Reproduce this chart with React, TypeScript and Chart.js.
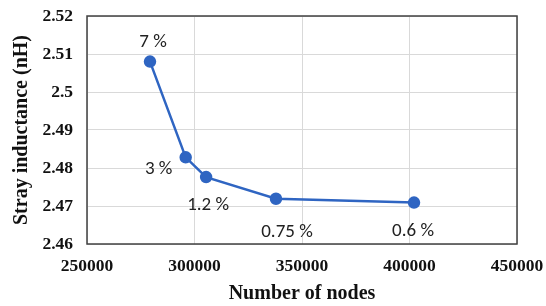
import React, { useEffect, useRef } from "react";
import { Chart, registerables } from "chart.js";

Chart.register(...registerables);

const nodes = [279300, 295900, 305400, 337900, 402100];
const inductance = [2.508, 2.4828, 2.4776, 2.4719, 2.4709];
const pointLabels = ["7 %", "3 %", "1.2 %", "0.75 %", "0.6 %"];
const labelOffsets = [
  [3, -19],
  [-27, 12],
  [2, 28],
  [11, 33],
  [-1, 29],
];

const frameAndLabels = {
  id: "frameAndLabels",
  afterDatasetsDraw(chart: any) {
    const { ctx, chartArea } = chart;
    ctx.save();
    ctx.strokeStyle = "#404040";
    ctx.lineWidth = 1.5;
    ctx.strokeRect(chartArea.left, chartArea.top, chartArea.right - chartArea.left, chartArea.bottom - chartArea.top);
    const meta = chart.getDatasetMeta(0);
    ctx.fillStyle = "#222";
    ctx.font = "19px Carlito, Lato, sans-serif";
    ctx.textAlign = "center";
    ctx.textBaseline = "middle";
    meta.data.forEach((pt: any, i: number) => {
      ctx.fillText(pointLabels[i], pt.x + labelOffsets[i][0], pt.y + labelOffsets[i][1]);
    });
    ctx.restore();
  },
};

export default function App() {
  const ref = useRef<HTMLCanvasElement>(null);
  useEffect(() => {
    document.body.style.margin = "0";
    const chart = new Chart(ref.current!, {
      type: "line",
      data: {
        datasets: [
          {
            data: nodes.map((x, i) => ({ x, y: inductance[i] })),
            borderColor: "#2f65c2",
            backgroundColor: "#2f65c2",
            borderWidth: 2.5,
            pointRadius: 5,
            pointHoverRadius: 5,
            tension: 0,
          },
        ],
      },
      options: {
        animation: false,
        responsive: false,
        layout: { padding: { top: 16, right: 29, left: 0, bottom: 0 } },
        plugins: { legend: { display: false }, tooltip: { enabled: false } },
        scales: {
          x: {
            type: "linear",
            min: 250000,
            max: 450000,
            ticks: {
              stepSize: 50000,
              padding: 12,
              color: "#111",
              font: { family: "'Liberation Serif', 'Times New Roman', serif", weight: "bold", size: 17.5 },
              callback: (v: any) => String(v),
            },
            grid: { color: "#d9d9d9", drawTicks: false },
            border: { display: false },
            title: {
              display: true,
              text: "Number of nodes",
              color: "#111",
              font: { family: "'Liberation Serif', 'Times New Roman', serif", weight: "bold", size: 20 },
              padding: { top: 2, bottom: 0 },
            },
            afterFit: (s: any) => {
              s.height = 62;
              s.paddingLeft = 0;
              s.paddingRight = 0;
            },
          },
          y: {
            min: 2.46,
            max: 2.52,
            ticks: {
              stepSize: 0.01,
              padding: 14,
              color: "#111",
              font: { family: "'Liberation Serif', 'Times New Roman', serif", weight: "bold", size: 17.5 },
              callback: (v: any) => String(parseFloat(Number(v).toFixed(2))),
            },
            grid: { color: "#d9d9d9", drawTicks: false },
            border: { display: false },
            title: {
              display: true,
              text: "Stray inductance (nH)",
              color: "#111",
              font: { family: "'Liberation Serif', 'Times New Roman', serif", weight: "bold", size: 20 },
              padding: { top: 10, bottom: 0 },
            },
            afterFit: (s: any) => {
              s.width = 87;
              s.paddingTop = 0;
              s.paddingBottom = 0;
            },
          },
        },
      },
      plugins: [frameAndLabels],
    });
    return () => chart.destroy();
  }, []);
  return (
    <div style={{ width: 546, height: 306, background: "#fff" }}>
      <canvas ref={ref} width={546} height={306} />
    </div>
  );
}
